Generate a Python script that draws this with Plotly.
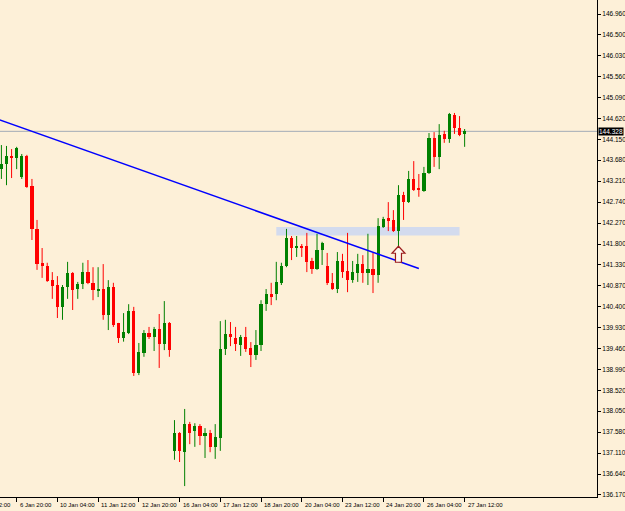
import plotly.graph_objects as go

# ---------------- data (GBPJPY-like H4 candles) ----------------
bar_index = list(range(92))
open_ = [143.48, 143.60, 143.78, 143.73, 143.30, 143.78, 143.10, 142.14, 141.38, 141.31,
         140.99, 140.88, 140.39, 140.84, 141.15, 140.79, 140.90, 141.17, 140.93, 140.75,
         140.79, 140.21, 140.84, 140.02, 139.69, 139.80, 140.30, 138.91, 139.36, 139.80,
         139.71, 139.89, 139.56, 140.03, 137.16, 137.56, 137.13, 137.76, 137.61, 137.72,
         137.49, 137.56, 137.25, 137.45, 139.45, 139.78, 139.69, 139.54, 139.71, 139.47,
         139.31, 139.54, 140.45, 140.68, 140.68, 140.93, 141.31, 141.94, 141.71, 141.76,
         141.76, 141.42, 141.24, 141.67, 141.31, 140.93, 140.79, 141.42, 141.20, 140.99,
         141.15, 141.35, 141.15, 141.24, 141.11, 142.18, 142.38, 142.34, 142.09, 142.90,
         142.74, 143.26, 143.06, 142.99, 143.39, 144.18, 143.75, 144.27, 144.16, 144.69,
         144.40, 144.27]
high = [144.02, 144.00, 143.93, 143.98, 143.82, 143.80, 143.26, 142.34, 141.71, 141.38,
        141.17, 141.08, 140.88, 141.40, 141.17, 140.95, 141.38, 141.44, 141.28, 141.28,
        141.35, 140.99, 140.93, 140.03, 140.25, 140.45, 140.39, 139.58, 139.87, 139.94,
        139.94, 140.23, 140.52, 140.05, 137.85, 137.58, 138.10, 137.81, 137.78, 137.76,
        137.67, 137.63, 137.76, 140.07, 140.10, 140.05, 139.94, 139.76, 139.94, 139.60,
        139.87, 140.54, 140.79, 140.93, 141.40, 141.38, 142.14, 141.98, 141.98, 141.80,
        142.05, 141.49, 142.03, 141.85, 141.60, 141.15, 141.62, 141.58, 142.05, 141.42,
        141.58, 141.55, 142.03, 141.60, 142.38, 142.41, 142.74, 142.56, 143.12, 142.97,
        143.44, 143.66, 143.37, 143.53, 144.29, 144.31, 144.49, 144.34, 144.74, 144.74,
        144.67, 144.38]
low = [143.26, 143.12, 143.28, 143.48, 143.26, 143.06, 141.89, 141.22, 141.04, 140.95,
       140.57, 140.14, 140.10, 140.57, 140.32, 140.57, 140.79, 140.90, 140.54, 140.61,
       140.10, 139.87, 139.94, 139.58, 139.61, 139.78, 138.84, 138.86, 139.27, 139.67,
       139.40, 139.02, 139.42, 139.27, 136.96, 136.91, 136.37, 137.31, 137.25, 137.29,
       137.00, 137.13, 136.98, 137.16, 139.31, 139.51, 139.40, 139.29, 139.38, 139.04,
       139.20, 139.40, 140.30, 140.43, 140.54, 140.88, 141.28, 141.44, 141.51, 141.51,
       141.17, 141.13, 141.22, 141.33, 140.88, 140.77, 140.70, 141.04, 140.72, 140.93,
       140.95, 140.93, 140.88, 140.70, 140.93, 142.16, 142.09, 142.07, 141.73, 142.34,
       142.72, 142.99, 142.86, 142.97, 143.37, 143.53, 143.48, 144.07, 144.07, 144.27,
       144.22, 143.98]
close = [143.60, 143.78, 143.73, 143.95, 143.78, 143.08, 142.14, 141.35, 141.31, 140.97,
         140.86, 140.39, 140.84, 141.15, 140.77, 140.90, 141.17, 140.93, 140.77, 140.79,
         140.21, 140.84, 139.98, 139.69, 139.83, 140.30, 138.91, 139.38, 139.80, 139.71,
         139.89, 139.56, 140.03, 139.42, 137.56, 137.16, 137.76, 137.56, 137.72, 137.49,
         137.56, 137.25, 137.47, 139.45, 139.78, 139.71, 139.56, 139.71, 139.45, 139.31,
         139.54, 140.45, 140.68, 140.61, 140.95, 141.31, 141.94, 141.71, 141.76, 141.73,
         141.40, 141.24, 141.67, 141.82, 140.93, 140.79, 141.42, 141.17, 140.99, 141.17,
         141.35, 141.15, 141.24, 141.11, 142.20, 142.36, 142.32, 142.09, 142.90, 142.74,
         143.26, 143.01, 143.01, 143.39, 144.18, 143.75, 144.25, 144.16, 144.72, 144.40,
         144.25, 144.328]

tick_index = [-5, 3, 11, 19, 27, 35, 43, 51, 59, 67, 75, 83, 91]
tick_labels = ["5 Jan 12:00", "6 Jan 20:00", "10 Jan 04:00", "11 Jan 12:00", "12 Jan 20:00",
               "16 Jan 04:00", "17 Jan 12:00", "18 Jan 20:00", "20 Jan 04:00",
               "23 Jan 12:00", "24 Jan 20:00", "26 Jan 04:00", "27 Jan 12:00"]
price_ticks = [146.960, 146.500, 146.030, 145.560, 145.090, 144.620, 144.150, 143.680,
               143.210, 142.740, 142.270, 141.800, 141.330, 140.870, 140.400, 139.930,
               139.460, 138.990, 138.520, 138.050, 137.580, 137.110, 136.640, 136.170]
last_price = 144.328
trend_index = [-1, 82]
trend_price = [144.61, 141.25]
zone_index = [54, 90]
zone_price = [141.99, 142.18]
arrow_index = 78
arrow_price = 141.75

x_range = [-0.275, 117.0]
y_range = [136.125, 147.274]

# ---------------- style ----------------
BG = "#fdf0d8"
UP = "#008000"
DN = "#ff0000"
FONT = "Liberation Sans, Arial, sans-serif"

fig = go.Figure()

# wicks
for col, is_up in ((UP, True), (DN, False)):
    xs, ys = [], []
    for i, o, h, l, c in zip(bar_index, open_, high, low, close):
        if (c >= o) == is_up:
            xs += [i, i, None]
            ys += [l, h, None]
    fig.add_trace(go.Scatter(x=xs, y=ys, mode="lines", line=dict(color=col, width=1),
                             hoverinfo="skip", showlegend=False))

# bodies
for col, is_up in ((UP, True), (DN, False)):
    bx, bh, bb = [], [], []
    for i, o, c in zip(bar_index, open_, close):
        if (c >= o) == is_up:
            bx.append(i)
            bb.append(min(o, c))
            bh.append(max(abs(c - o), 0.015))
    fig.add_trace(go.Bar(x=bx, y=bh, base=bb, width=0.62, marker=dict(color=col, line=dict(width=0)),
                         hoverinfo="skip", showlegend=False))

# trend line
fig.add_trace(go.Scatter(x=trend_index, y=trend_price, mode="lines",
                         line=dict(color="#0000ff", width=1.5), hoverinfo="skip", showlegend=False))

shapes = [
    dict(type="rect", xref="x", yref="y", x0=zone_index[0], x1=zone_index[1],
         y0=zone_price[0], y1=zone_price[1], fillcolor="#d3dbee", line=dict(width=0), layer="below"),
    dict(type="line", xref="paper", yref="y", x0=0, x1=1, y0=last_price, y1=last_price,
         line=dict(color="#a3abb6", width=1), layer="below"),
    dict(type="path", xref="x", yref="y", xsizemode="pixel", ysizemode="pixel",
         xanchor=arrow_index, yanchor=arrow_price,
         path="M0,0 L6.5,-7 L3,-7 L3,-16 L-3,-16 L-3,-7 L-6.5,-7 Z",
         line=dict(color="#9b1c1c", width=1.2), fillcolor="#fff8ee", layer="above"),
]

annotations = []
span = x_range[1] - x_range[0]
for xi, txt in zip(tick_index, tick_labels):
    annotations.append(dict(xref="paper", yref="paper", x=(xi - x_range[0]) / span, y=0,
                            xanchor="left", yanchor="top", xshift=1, yshift=-3,
                            text=txt, showarrow=False,
                            font=dict(family=FONT, size=6, color="#000000")))
annotations.append(dict(xref="paper", yref="y", x=1, y=last_price, xanchor="left", yanchor="middle",
                        xshift=1, text="%.3f" % last_price, showarrow=False, bgcolor="#000000",
                        borderpad=0, font=dict(family=FONT, size=6.5, color="#ffffff")))

fig.update_layout(
    width=625, height=511, autosize=False,
    margin=dict(l=0, r=28, t=0, b=14),
    paper_bgcolor=BG, plot_bgcolor=BG,
    barmode="overlay", bargap=0,
    shapes=shapes, annotations=annotations,
    showlegend=False,
    xaxis=dict(range=x_range, showgrid=False, zeroline=False, showline=True, linecolor="#000000",
               linewidth=1, ticks="outside", ticklen=4, tickcolor="#000000", tickwidth=1,
               tickvals=tick_index[1:], showticklabels=False, fixedrange=True),
    yaxis=dict(range=y_range, side="right", showgrid=False, zeroline=False, showline=True,
               linecolor="#000000", linewidth=1, ticks="outside", ticklen=3, tickcolor="#000000",
               tickvals=price_ticks, ticktext=["%.3f" % v for v in price_ticks],
               tickfont=dict(family=FONT, size=6.5, color="#000000"), fixedrange=True),
)

fig.write_html("out.html")
